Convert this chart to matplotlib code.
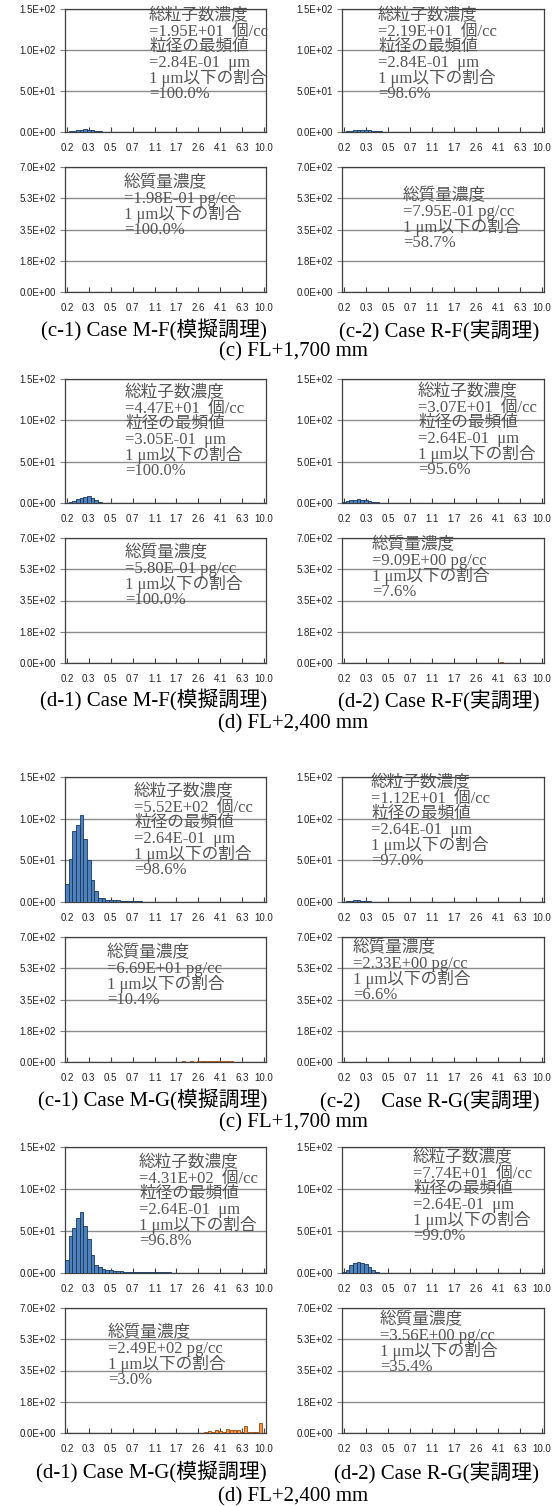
import matplotlib
matplotlib.use('Agg')
import matplotlib.pyplot as plt
import numpy as np

W, H = 553, 1506
N_BINS = 55

x_labels = ['0.2', '0.3', '0.5', '0.7', '1.1', '1.7', '2.6', '4.1', '6.3', '10.0']
num_yticks = [0, 50, 100, 150]
num_ylabels = ['0.0E+00', '5.0E+01', '1.0E+02', '1.5E+02']
mass_yticks = [0, 175, 350, 525, 700]
mass_ylabels = ['0.0E+00', '1.8E+02', '3.5E+02', '5.3E+02', '7.0E+02']

# number concentration per size bin [個/cc], from the first bin (0.2 um) upward
num_c1_mf = [0.2, 0.8, 1.6, 2.4, 2.9, 3.3, 3.0, 2.3, 1.5, 0.8, 0.4, 0.2, 0.1]
num_c2_rf = [0.3, 1.0, 1.8, 2.4, 2.8, 3.0, 2.6, 2.0, 1.4, 1.0, 0.7, 0.5, 0.4, 0.3,
             0.25, 0.2, 0.2, 0.15, 0.15, 0.1, 0.1, 0.1, 0.1, 0.1, 0.05, 0.05, 0.05,
             0.05, 0.05, 0.05]
num_d1_mf = [0.5, 1.5, 3.0, 4.5, 6.0, 7.5, 8.5, 6.5, 4.0, 1.8, 0.6, 0.3]
num_d2_rf = [0.8, 2.3, 3.3, 3.9, 4.5, 4.1, 3.3, 2.4, 1.6, 1.0, 0.6, 0.4, 0.3, 0.2,
             0.15, 0.1, 0.1, 0.1, 0.1, 0.05, 0.05, 0.05, 0.05, 0.0, 0.08, 0.08,
             0.08, 0.08, 0.08, 0.08, 0.08, 0.08, 0.08, 0.08, 0.08, 0.08, 0.08,
             0.08, 0.08, 0.08, 0.08]
num_c1_mg = [22, 52, 85, 93, 105, 76, 50, 26, 13, 5, 5, 3, 2, 2, 2, 1.5, 1.2, 1.0,
             1.6, 0.8, 0.8, 0.6, 0.6, 0.5, 0.5, 0.4, 0.3, 0.3, 0.3, 0.3, 0.2, 0.2,
             0.2, 0.2, 0.2, 0.2, 0.2, 0.1, 0.1, 0.1, 0.1, 0.1, 0.1, 0.1]
num_c2_rg = [0.3, 0.9, 1.5, 1.9, 2.1, 1.8, 1.2, 0.7, 0.4, 0.2, 0.1, 0.05]
num_d1_mg = [15, 44, 54, 66, 73, 56, 40, 22, 10, 7, 5, 3, 3, 2, 2, 2, 1.5, 1.5,
             1.0, 1.0, 1.0, 0.8, 0.8, 0.7, 1.0, 1.0, 0.9, 0.8, 0.8, 0.5, 0.5, 0.4,
             0.4, 0.3, 0.3, 0.3, 0.3, 0.3, 0.4, 0.3, 0.3, 0.4, 0.3, 0.3, 0.2, 0.2,
             0.1, 0.1]
num_d2_rg = [1.5, 4.0, 9.5, 12.5, 13.5, 12.5, 10.5, 7.5, 3.5, 1.2, 0.5, 0.3, 0.2,
             0.1, 0.1]

# mass concentration per size bin [pg/cc]
mass_c1_mf = [0, 0, 0.005, 0.01, 0.015, 0.02, 0.025, 0.025, 0.025, 0.02, 0.015,
              0.015, 0.01, 0.008, 0.005]
mass_c2_rf = [0, 0.005, 0.01, 0.02, 0.03, 0.04, 0.05, 0.05, 0.05, 0.04, 0.04, 0.03,
              0.03, 0.02, 0.02, 0.02, 0.01, 0.01, 0.01, 0.01, 0.01, 0.01, 0.005,
              0.005, 0.02, 0.02, 0.02, 0.02, 0.02, 0.02, 0.02, 0.02, 0.02, 0.02,
              0.02, 0.02, 0.02, 0.02, 0.02, 0.02]
mass_d1_mf = [0, 0.01, 0.02, 0.03, 0.05, 0.07, 0.09, 0.09, 0.07, 0.04, 0.02, 0.01]
mass_d2_rf = [0, 0, 0.01, 0.02, 0.03, 0.05, 0.06, 0.06, 0.05, 0.04, 0.04, 0.03,
              0.03, 0.02, 0.02, 0.02, 0.02, 0.02, 0.02, 0.02, 0.01, 0.01, 0.01,
              0.01, 0.1, 0.1, 0.1, 0.1, 0.1, 0.1, 0.2, 0.2, 0.2, 0.2, 0.3, 0.3,
              0.3, 0.3, 0.3, 0.3, 0.3, 0.3, 0.3, 4.0]
mass_c1_mg = [0.05, 0.15, 0.3, 0.45, 0.6, 0.6, 0.55, 0.45, 0.35, 0.25, 0.3, 0.25,
              0.2, 0.25, 0.3, 0.3, 0.3, 0.3, 0.5, 0.3, 0.4, 0.35, 0.4, 0.4, 0.6,
              0.8, 0.9, 1.0, 1.2, 1.5, 2.0, 1.5, 3.0, 1.5, 3.0, 2.0, 4.0, 3.0, 5.0,
              3.5, 5.0, 6.0, 5.0, 6.0, 4.0, 5.0]
mass_c2_rg = [0, 0.005, 0.01, 0.02, 0.02, 0.02, 0.02, 0.015, 0.01, 0.008, 0.005,
              0, 0, 0, 0, 0, 0, 0, 0, 0, 0, 0, 0, 0, 0.05, 0.05, 0.05, 0.05, 0.08,
              0.08, 0.08, 0.1, 0.1, 0.1, 0.1, 0.1, 0.1, 0.1, 0.1, 0.1, 0.1, 0.1]
mass_d1_mg = [0.05, 0.2, 0.35, 0.6, 0.8, 0.8, 0.7, 0.5, 0.3, 0.25, 0.2, 0.15, 0.15,
              0.15, 0.2, 0.2, 0.2, 0.2, 0.3, 0.25, 0.25, 0.2, 0.2, 0.2, 1.0, 1.0,
              1.0, 1.0, 1.0, 1.0, 1.0, 1.0, 1.0, 1.0, 1.0, 1.0, 1.0, 1.0, 6, 9, 3,
              15, 11, 4, 24, 15, 19, 15, 5, 38, 3, 4, 3, 56]
mass_d2_rg = [0, 0.01, 0.03, 0.06, 0.08, 0.1, 0.1, 0.09, 0.08, 0.06, 0.05, 0.05,
              0.04, 0.04, 0.04, 0.03, 0.03, 0.03, 0.03, 0.03, 0.02, 0.02, 0.02,
              0.02, 0.1, 0.1, 0.1, 0.1, 0.1, 0.15, 0.15, 0.15, 0.15, 0.15, 0.1,
              0.1, 0.1, 0.1, 0.1, 0.1, 0.1]

num_data = [num_c1_mf, num_c2_rf, num_d1_mf, num_d2_rf,
            num_c1_mg, num_c2_rg, num_d1_mg, num_d2_rg]
mass_data = [mass_c1_mf, mass_c2_rf, mass_d1_mf, mass_d2_rf,
             mass_c1_mg, mass_c2_rg, mass_d1_mg, mass_d2_rg]

total_num = ['1.95E+01', '2.19E+01', '4.47E+01', '3.07E+01',
             '5.52E+02', '1.12E+01', '4.31E+02', '7.74E+01']
mode_dia = ['2.84E-01', '2.84E-01', '3.05E-01', '2.64E-01',
            '2.64E-01', '2.64E-01', '2.64E-01', '2.64E-01']
num_pct = ['100.0%', '98.6%', '100.0%', '95.6%', '98.6%', '97.0%', '96.8%', '99.0%']
total_mass = ['1.98E-01', '7.95E-01', '5.80E-01', '9.09E+00',
              '6.69E+01', '2.33E+00', '2.49E+02', '3.56E+00']
mass_pct = ['100.0%', '58.7%', '100.0%', '7.6%', '10.4%', '6.6%', '3.0%', '35.4%']

case_labels = [('(c-1) Case M-F(模擬調理)', '(c-2) Case R-F(実調理)'),
               ('(d-1) Case M-F(模擬調理)', '(d-2) Case R-F(実調理)'),
               ('(c-1) Case M-G(模擬調理)', '(c-2)    Case R-G(実調理)'),
               ('(d-1) Case M-G(模擬調理)', '(d-2) Case R-G(実調理)')]
height_labels = ['(c) FL+1,700 mm', '(d) FL+2,400 mm',
                 '(c) FL+1,700 mm', '(d) FL+2,400 mm']

# layout in pixels
col_x = [(65, 266), (342, 544)]
group_y = [(9, 132, 167, 292), (379, 503, 538, 663),
           (777, 902, 937, 1062), (1147, 1273, 1308, 1433)]
caption_y = [(330, 352), (700, 724), (1100, 1123), (1472, 1497)]
num_txt_pos = [(149, 16), (378, 16), (125, 393), (418, 392),
               (134, 792), (371, 783), (139, 1163), (413, 1158)]
mass_txt_pos = [(124, 183), (403, 196), (125, 553), (372, 545),
                (107, 953), (353, 948), (108, 1333), (380, 1320)]
LINE = 15.6

serif = ['Liberation Serif', 'Noto Sans CJK JP']
tickfont = ['Liberation Sans Narrow', 'Liberation Sans']

fig = plt.figure(figsize=(W / 100, H / 100), dpi=100)


def make_ax(x0, x1, ytop, ybot):
    return fig.add_axes([x0 / W, 1 - ybot / H, (x1 - x0) / W, (ybot - ytop) / H])


def style_ax(ax, yticks, ylabels):
    ax.set_xlim(-0.5, N_BINS - 0.5)
    ax.set_ylim(yticks[0], yticks[-1])
    ax.set_xticks(np.arange(0, N_BINS, 6))
    ax.set_xticklabels(x_labels, fontsize=7, family=tickfont, color='#222222')
    ax.set_yticks(yticks)
    ax.set_yticklabels(ylabels, fontsize=7, family=tickfont, color='#222222')
    ax.tick_params(axis='x', direction='in', length=3.5, width=0.8, color='#404040', pad=8)
    ax.tick_params(axis='y', direction='out', length=3.5, width=0.8, color='#808080', pad=3)
    ax.grid(axis='y', color='#8c8c8c', lw=1)
    ax.set_axisbelow(True)
    for s in ax.spines.values():
        s.set_color('#404040')
        s.set_linewidth(0.9)


def draw_bars(ax, vals, fc, ec, width):
    v = np.array(vals, dtype=float)
    idx = np.arange(len(v))
    m = v > 0
    ax.bar(idx[m], v[m], width=width, color=fc, edgecolor=ec, linewidth=0.6, zorder=3)


def put_lines(x, y, lines):
    for k, t in enumerate(lines):
        fig.text(x / W, 1 - (y + k * LINE) / H, t, family=serif, fontsize=12,
                 color='#555555', ha='left', va='center')


for g in range(4):
    nt, nb, mt, mb = group_y[g]
    for c in range(2):
        p = g * 2 + c
        x0, x1 = col_x[c]

        axn = make_ax(x0, x1, nt, nb)
        style_ax(axn, num_yticks, num_ylabels)
        draw_bars(axn, num_data[p], '#4F81BD', '#17375E', 1.0)
        put_lines(*num_txt_pos[p], ['総粒子数濃度',
                                    '=' + total_num[p] + '  個/cc',
                                    '粒径の最頻値',
                                    '=' + mode_dia[p] + '  μm',
                                    '1 μm以下の割合',
                                    '=' + num_pct[p]])

        axm = make_ax(x0, x1, mt, mb)
        style_ax(axm, mass_yticks, mass_ylabels)
        draw_bars(axm, mass_data[p], '#F79646', '#984807', 0.8)
        put_lines(*mass_txt_pos[p], ['総質量濃度',
                                     '=' + total_mass[p] + ' pg/cc',
                                     '1 μm以下の割合',
                                     '=' + mass_pct[p]])

    cy, fy = caption_y[g]
    fig.text(267 / W, 1 - cy / H, case_labels[g][0], family=serif, fontsize=15,
             ha='right', va='center')
    fig.text(539 / W, 1 - cy / H, case_labels[g][1], family=serif, fontsize=15,
             ha='right', va='center')
    fig.text(293 / W, 1 - fy / H, height_labels[g], family=serif, fontsize=15,
             ha='center', va='center')

fig.savefig('out.png', dpi=100)
